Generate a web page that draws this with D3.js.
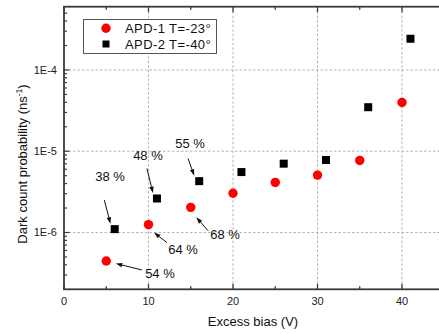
<!DOCTYPE html>
<html><head><meta charset="utf-8">
<script src="https://cdn.jsdelivr.net/npm/d3@7"></script>
<style>body{margin:0;background:#fff;}svg{display:block;font-family:"Liberation Sans",Arial,sans-serif;}</style>
</head><body><svg id="c" width="439" height="334"></svg>
<script>
// ---- data ----
const apd1X = [5, 10, 15, 20, 25, 30, 35, 40];
const apd1Y = [4.46e-7, 1.25e-6, 2.04e-6, 3.04e-6, 4.13e-6, 5.08e-6, 7.7e-6, 3.97e-5];
const apd2X = [6, 11, 16, 21, 26, 31, 36, 41];
const apd2Y = [1.10e-6, 2.62e-6, 4.28e-6, 5.54e-6, 7.03e-6, 7.8e-6, 3.48e-5, 2.42e-4];
const seriesNames = ["APD-1 T=-23°", "APD-2 T=-40°"];
const xTicks = [0, 10, 20, 30, 40];
const yTicks = [1e-6, 1e-5, 1e-4];
const yTickLabels = ["1E-6", "1E-5", "1E-4"];
// annotations: label, series (0 = APD-1, 1 = APD-2), point index
const annLabels = ["38 %", "48 %", "55 %", "64 %", "68 %", "54 %"];
const annSeries = [1, 1, 1, 0, 0, 0];
const annIndex = [0, 1, 2, 1, 2, 0];
// layout offsets (px) relative to the annotated marker: label, arrow start, arrow end
const annLayout = [
  {lx:-4.7, ly:-52.3, sx:-10.4, sy:-29, ex:-4.2, ey:-5.5},
  {lx:-9, ly:-43, sx:-10, sy:-30, ex:-4, ey:-5.5},
  {lx:-9.2, ly:-37.7, sx:-11.2, sy:-22.7, ex:-5, ey:-5.5},
  {lx:34.5, ly:25, sx:18.5, sy:18, ex:5.5, ey:8},
  {lx:34.3, ly:26.6, sx:17.3, sy:23.3, ex:5.5, ey:10},
  {lx:53.7, ly:12, sx:35.7, sy:9, ex:9.5, ey:2.5}
];

// ---- chart ----
const svg = d3.select("#c");
const L = 64, T = 6.7, B = 289.3;
const x = d3.scaleLinear().domain([0, 45]).range([L, L + 45 * 8.45]);
const R = x(45);
const y = d3.scaleLog().domain([2e-7, 6e-4]).range([B, T]);
const axisColor = "#3a3a3a";

// grid
const grid = svg.append("g").attr("stroke", "#b4b4b4").attr("stroke-dasharray", "2.5,2").attr("stroke-width", 1);
xTicks.filter(d => d > 0).forEach(d => grid.append("line").attr("x1", x(d)).attr("x2", x(d)).attr("y1", T).attr("y2", B));
yTicks.forEach(d => grid.append("line").attr("x1", L).attr("x2", R).attr("y1", y(d)).attr("y2", y(d)));

// minor/major ticks (inward)
const xMinor = d3.range(5, 45, 10);
const yMinor = [];
[-7, -6, -5, -4].forEach(e => { for (let k = 2; k <= 9; k++) { const v = k * Math.pow(10, e); if (v > 2e-7 && v < 6e-4) yMinor.push(v); } });

const axG = svg.append("g").attr("stroke", axisColor);
function tickLines(vals, len, orient) {
  vals.forEach(v => {
    if (orient === "bottom") axG.append("line").attr("x1", x(v)).attr("x2", x(v)).attr("y1", B).attr("y2", B - len).attr("stroke-width", 1.3);
    if (orient === "top") axG.append("line").attr("x1", x(v)).attr("x2", x(v)).attr("y1", T).attr("y2", T + len).attr("stroke-width", 1.3);
    if (orient === "left") axG.append("line").attr("x1", L).attr("x2", L + len).attr("y1", y(v)).attr("y2", y(v)).attr("stroke-width", 1.2);
    if (orient === "right") axG.append("line").attr("x1", R).attr("x2", R - len).attr("y1", y(v)).attr("y2", y(v)).attr("stroke-width", 1.2);
  });
}
tickLines(xTicks, 5.5, "bottom"); tickLines(xMinor, 3, "bottom");
tickLines(xTicks, 5.5, "top"); tickLines(xMinor, 3, "top");
tickLines(yTicks, 5.5, "left"); tickLines(yMinor, 3, "left");
tickLines(yTicks, 5.5, "right"); tickLines(yMinor, 3, "right");
axG.append("rect").attr("x", L).attr("y", T).attr("width", R - L).attr("height", B - T)
  .attr("fill", "none").attr("stroke-width", 1.8);

// tick labels
svg.append("g").selectAll("text").data(xTicks).join("text")
  .attr("x", d => x(d)).attr("y", 304.5).attr("text-anchor", "middle")
  .attr("font-size", 11).attr("fill", "#222").text(d => d);
svg.append("g").selectAll("text").data(yTicks).join("text")
  .attr("x", 57).attr("y", d => y(d) + 4).attr("text-anchor", "end")
  .attr("font-size", 11).attr("fill", "#222").text((d, i) => yTickLabels[i]);

// axis titles
svg.append("text").attr("x", 253).attr("y", 326).attr("text-anchor", "middle")
  .attr("font-size", 13).attr("fill", "#111").text("Excess bias (V)");
const yt = svg.append("text").attr("transform", "translate(26.5,164) rotate(-90)")
  .attr("text-anchor", "middle").attr("font-size", 13).attr("fill", "#111");
yt.append("tspan").text("Dark count probability (ns");
yt.append("tspan").attr("font-size", 8.5).attr("dy", -5).text("-1");
yt.append("tspan").attr("dy", 5).text(")");

// markers
const pts1 = apd1X.map((v, i) => [v, apd1Y[i]]);
const pts2 = apd2X.map((v, i) => [v, apd2Y[i]]);
svg.append("g").selectAll("circle").data(pts1).join("circle")
  .attr("cx", d => x(d[0])).attr("cy", d => y(d[1])).attr("r", 4.7).attr("fill", "#ff0000");
svg.append("g").selectAll("rect").data(pts2).join("rect")
  .attr("x", d => x(d[0]) - 4).attr("y", d => y(d[1]) - 4).attr("width", 8).attr("height", 8).attr("fill", "#000");

// annotations
const allPts = [pts1, pts2];
const ag = svg.append("g");
annLabels.forEach((lab, i) => {
  const p = allPts[annSeries[i]][annIndex[i]];
  const px = x(p[0]), py = y(p[1]);
  const o = annLayout[i];
  ag.append("text").attr("x", px + o.lx).attr("y", py + o.ly + 4.6).attr("text-anchor", "middle")
    .attr("font-size", 13).attr("fill", "#111").text(lab);
  const x1 = px + o.sx, y1 = py + o.sy, x2 = px + o.ex, y2 = py + o.ey;
  const ang = Math.atan2(y2 - y1, x2 - x1);
  const hl = 6.5, hw = 2.2;
  const bx = x2 - hl * Math.cos(ang), by = y2 - hl * Math.sin(ang);
  ag.append("line").attr("x1", x1).attr("y1", y1).attr("x2", bx).attr("y2", by).attr("stroke", "#111").attr("stroke-width", 1);
  const nx = -Math.sin(ang) * hw, ny = Math.cos(ang) * hw;
  ag.append("path").attr("d", `M${x2},${y2}L${bx + nx},${by + ny}L${bx - nx},${by - ny}Z`).attr("fill", "#111");
});

// legend
const lg = svg.append("g");
lg.append("rect").attr("x", 83.5).attr("y", 19.5).attr("width", 133).attr("height", 34)
  .attr("fill", "#fff").attr("stroke", "#555").attr("stroke-width", 1);
lg.append("circle").attr("cx", 106).attr("cy", 28.3).attr("r", 4.7).attr("fill", "#ff0000");
lg.append("rect").attr("x", 102.5).attr("y", 40.5).attr("width", 7).attr("height", 7).attr("fill", "#000");
seriesNames.forEach((n, i) => lg.append("text").attr("x", 125).attr("y", 33 + i * 15.5)
  .attr("font-size", 13).attr("letter-spacing", 0.4).attr("fill", "#111").text(n));
</script></body></html>
